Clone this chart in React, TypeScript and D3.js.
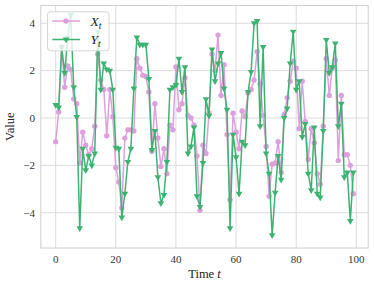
import React from "react";
import * as d3 from "d3";

// series, t = 0..99
const xSeries = [
  -1.0, 0.25, 3.0, 1.3, 2.2, 2.05, 0.8, 0.6, -1.9, -0.6,
  -1.15, -1.55, -1.3, -0.35, 2.7, 1.6, 1.2, -0.75, 1.2, 0.05,
  -2.1, -2.7, -3.8, -0.85, -0.5, -0.5, -0.55, 2.5, 2.1, 1.8,
  1.75, 1.1, -1.4, 0.6, -0.85, -2.05, -1.3, -2.35, -0.3, -0.5,
  2.15, 0.35, 0.6, 1.7, 0.1, 0.0, -0.3, -1.6, -3.9, -1.15,
  -1.5, 0.2, 2.7, 2.0, 3.5, 0.95, 2.25, -0.7, -3.45, 0.2,
  -0.6, -1.3, 0.3, 0.05, 1.05, 1.2, 1.6, 2.8, 1.45, 0.1,
  -1.2, -3.3, -1.95, -1.9, -1.0, -2.3, 0.15, 0.85, 1.55, 2.4,
  2.1, -0.45, 1.55, -0.15, -1.75, -0.45, -1.05, -2.35, -2.8, -0.35,
  2.5, 0.95, 2.1, 2.45, -1.8, 0.95, -1.55, -1.55, -2.0, -3.2,
];

const ySeries = [
  0.55, 0.45, 3.0, 1.9, 3.4, 4.35, 1.3, 0.05, -4.65, -1.3,
  -2.2, -1.6, -2.0, -1.5, 3.65, 1.2, 2.3, 2.05, 2.0, 1.2,
  -1.25, -1.3, -4.2, -3.2, -1.85, -1.3, 1.25, 3.4, 3.1, 3.1,
  3.1, 1.65, -1.35, -0.55, -2.5, -3.6, -3.25, -1.85, 1.2, 1.3,
  1.4, 2.5, 1.1, 2.15, -1.5, -1.2, -0.4, -3.3, -3.75, -1.9,
  0.8, 0.1, 2.9, 1.55, 2.3, 2.75, 1.25, 0.35, -4.65, -0.7,
  -1.65, -3.2, -1.0, -1.15, 1.1, 1.95, 4.0, 4.1, -0.35, 3.0,
  -1.5, -2.35, -4.95, -3.15, -1.6, -2.6, 0.0, 0.4, 2.3, 3.65,
  1.2, 1.55, -0.8, -0.25, -2.35, -3.05, -0.4, -3.2, -3.35, -0.55,
  3.3, 1.9, 2.15, 3.15, -0.35, 0.6, -2.5, -2.3, -4.35, -2.3,
];

const xTicks = [0, 20, 40, 60, 80, 100];
const yTicks = [-4, -2, 0, 2, 4];

const W = 374;
const H = 286;
const left = 40.8, right = 368.2, top = 5.5, bottom = 248;
const font = "'Liberation Serif', 'DejaVu Serif', serif";
const pink = "#dda0dd";
const green = "#3cb371";
const gridColor = "#dcdcdc";

export default function App() {
  const x = d3.scaleLinear().domain([-4.95, 103.95]).range([left, right]);
  const y = d3.scaleLinear().domain([-5.49, 4.75]).range([bottom, top]);

  const line = d3
    .line<number>()
    .x((_, i) => x(i))
    .y((d) => y(d));

  const tri = d3.symbol(d3.symbolTriangle).size(19)() as string;

  return (
    <svg
      width={W}
      height={H}
      style={{ position: "absolute", left: 0, top: 0, background: "white" }}
      fontFamily={font}
    >
      <defs>
        <clipPath id="plot">
          <rect x={left} y={top} width={right - left} height={bottom - top} />
        </clipPath>
      </defs>

      {/* grid */}
      {xTicks.map((t) => (
        <line key={"gx" + t} x1={x(t)} x2={x(t)} y1={top} y2={bottom} stroke={gridColor} strokeWidth={1} />
      ))}
      {yTicks.map((t) => (
        <line key={"gy" + t} x1={left} x2={right} y1={y(t)} y2={y(t)} stroke={gridColor} strokeWidth={1} />
      ))}

      {/* series */}
      <g clipPath="url(#plot)">
        <path d={line(xSeries) || ""} fill="none" stroke={pink} strokeWidth={1.5} />
        {xSeries.map((v, i) => (
          <circle key={"px" + i} cx={x(i)} cy={y(v)} r={2.7} fill={pink} />
        ))}
        <path d={line(ySeries) || ""} fill="none" stroke={green} strokeWidth={1.5} />
        {ySeries.map((v, i) => (
          <path key={"py" + i} d={tri} transform={`translate(${x(i)},${y(v)}) rotate(180)`} fill={green} />
        ))}
      </g>

      {/* frame */}
      <rect x={left} y={top} width={right - left} height={bottom - top} fill="none" stroke="#cfcfcf" strokeWidth={1} />

      {/* tick labels */}
      {xTicks.map((t) => (
        <text key={"tx" + t} x={x(t)} y={262.5} textAnchor="middle" fontSize={11} fill="#333">
          {t}
        </text>
      ))}
      {yTicks.map((t) => (
        <text key={"ty" + t} x={35} y={y(t) + 3.8} textAnchor="end" fontSize={11} fill="#333">
          {t < 0 ? "\u2212" + Math.abs(t) : t}
        </text>
      ))}

      {/* axis labels */}
      <text x={(left + right) / 2} y={277.5} textAnchor="middle" fontSize={12.5} fill="#222">
        Time <tspan fontStyle="italic">t</tspan>
      </text>
      <text
        transform={`translate(14,${(top + bottom) / 2}) rotate(-90)`}
        textAnchor="middle"
        fontSize={12.5}
        fill="#222"
      >
        Value
      </text>

      {/* legend */}
      <g>
        <rect x={47.5} y={11.8} width={61.5} height={39} rx={3} fill="white" fillOpacity={0.8} stroke="#d6d6d6" />
        <line x1={52.3} x2={80} y1={21} y2={21} stroke={pink} strokeWidth={1.5} />
        <circle cx={66} cy={21} r={2.7} fill={pink} />
        <text x={90.5} y={25.5} fontSize={13.5} fontStyle="italic" fill="#222">
          X<tspan fontSize={9.5} dy={3}>t</tspan>
        </text>
        <line x1={52.3} x2={80} y1={39.5} y2={39.5} stroke={green} strokeWidth={1.5} />
        <path d={tri} transform="translate(66,39.5) rotate(180)" fill={green} />
        <text x={90.5} y={44} fontSize={13.5} fontStyle="italic" fill="#222">
          Y<tspan fontSize={9.5} dy={3}>t</tspan>
        </text>
      </g>
    </svg>
  );
}
